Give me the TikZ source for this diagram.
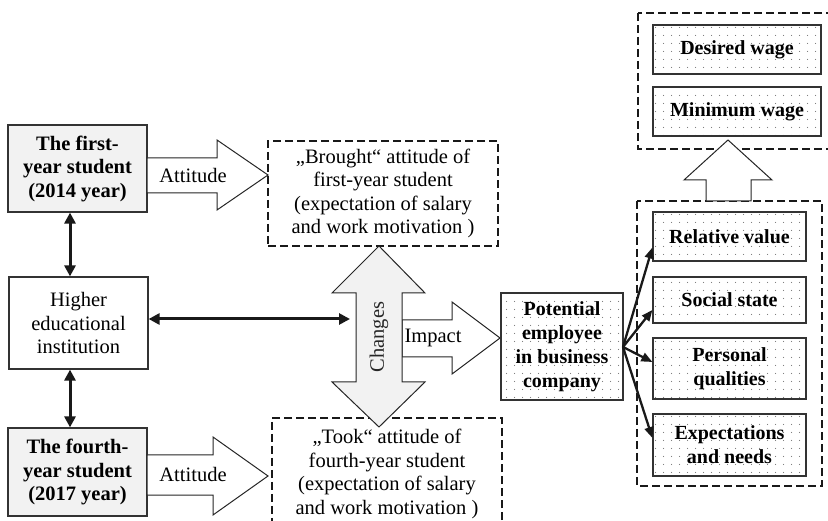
\documentclass[tikz,border=0pt]{standalone}
\usepackage{fontspec}
\setmainfont{Liberation Serif}
\usetikzlibrary{arrows.meta,patterns.meta}
\tikzdeclarepattern{name=fdots,type=uncolored,bounding box={(0pt,0pt) and (7.5pt,7.5pt)},tile size={(7.5pt,7.5pt)},code={\fill (3.75pt,3.75pt) circle (0.6pt);}}
\begin{document}
\begin{tikzpicture}[x=1pt,y=-1pt,
  txt/.style={font=\fontsize{20.5}{23.5}\selectfont, align=center, inner sep=0pt},
  solidbox/.style={txt, draw=black!80, line width=1.2pt, fill=gray!10, font=\fontsize{20.5}{23.5}\selectfont\bfseries},
  plainbox/.style={txt, draw=black!80, line width=1.2pt, fill=white},
  dashbox/.style={txt, draw=black!90, line width=1.8pt, dash pattern=on 8pt off 4pt},
  dotbox/.style={txt, draw=black!80, line width=1.2pt, pattern=fdots, pattern color=black!55, font=\fontsize{20}{24}\selectfont\bfseries},
  blockarrow/.style={draw=black!85, line width=1pt, fill=white, line join=miter},
  thickarrow/.style={line width=3pt, black!90, {Triangle[length=11pt,width=11pt]}-{Triangle[length=11pt,width=11pt]}},
  fanarrow/.style={line width=2.3pt, black!90, -{Triangle[length=11pt,width=9pt]}}
]
\useasboundingbox (0,0) rectangle (828,521);
\clip (0,0) rectangle (828,521);

% left column
\node[solidbox, minimum width=139, minimum height=87] (first) at (77.5,168.5) {The first-\\year student\\(2014 year)};
\node[plainbox, minimum width=139, minimum height=92] (hei) at (78.5,323) {Higher\\educational\\institution};
\node[solidbox, minimum width=139, minimum height=88] (fourth) at (77.5,472) {The fourth-\\year student\\(2017 year)};

\draw[thickarrow] (first.south -| 70,0) -- (hei.north -| 70,0);
\draw[thickarrow] (hei.south -| 70,0) -- (fourth.north -| 70,0);

% attitude boxes
\node[dashbox, minimum width=230, minimum height=105] (brought) at (383,193.5) {„Brought“ attitude of\\first-year student\\(expectation of salary\\and work motivation )};
\node[dashbox, minimum width=230, minimum height=112] (took) at (387,474) {„Took“ attitude of\\fourth-year student\\(expectation of salary\\and work motivation )};

% attitude block arrows
\draw[blockarrow] (147,158)--(217,158)--(217,140)--(268,175)--(217,210)--(217,193)--(147,193)--cycle;
\node[txt] (att1) at (193,175) {Attitude};
\draw[blockarrow] (147,455)--(213,455)--(213,437)--(268,476)--(213,515)--(213,495)--(147,495)--cycle;
\node[txt] (att2) at (193,474) {Attitude};

% impact block arrow
\draw[blockarrow] (402,320)--(452,320)--(452,302)--(500,338)--(452,374)--(452,357)--(402,357)--cycle;
\node[txt] (impact) at (433,338) {Impact};

% changes double block arrow
\draw[blockarrow, fill=gray!10] (379,246)--(425,293)--(402,293)--(402,382)--(425,382)--(379,427)--(332,382)--(356,382)--(356,293)--(332,293)--cycle;
\node[txt, rotate=90, text=black!85] (changes) at (379,337) {Changes};

\coordinate (chl) at (350,319);
\draw[thickarrow] (hei.east |- 0,319) -- (chl);

% potential employee
\node[dotbox, minimum width=122, minimum height=107] (pot) at (562,346.5) {Potential\\employee\\in business\\company};

% right containers
\draw[dashbox] (637,201) rectangle (822,486);
\node[dotbox, minimum width=153, minimum height=49] (rel) at (729.5,236.5) {Relative value};
\node[dotbox, minimum width=153, minimum height=46] (soc) at (729.5,300) {Social state};
\node[dotbox, minimum width=153, minimum height=61] (pers) at (729.5,368.5) {Personal\\qualities};
\node[dotbox, minimum width=153, minimum height=62] (expn) at (729.5,445) {Expectations\\and needs};

\draw[dashbox] (638,13) rectangle (840,149);
\node[dotbox, minimum width=168, minimum height=49] (des) at (737,49.5) {Desired wage};
\node[dotbox, minimum width=168, minimum height=49] (minw) at (737,111.5) {Minimum wage};

% up block arrow
\draw[blockarrow] (706,201)--(706,180)--(684,180)--(728,140)--(772,180)--(751,180)--(751,201)--cycle;

% fan arrows
\coordinate (fan) at (623,347);
\draw[fanarrow] (fan) -- ([yshift=-11pt]rel.west);
\draw[fanarrow] (fan) -- ([yshift=-10pt]soc.west);
\draw[fanarrow] (fan) -- ([yshift=6.5pt]pers.west);
\draw[fanarrow] (fan) -- ([yshift=7pt]expn.west);
\end{tikzpicture}
\end{document}
